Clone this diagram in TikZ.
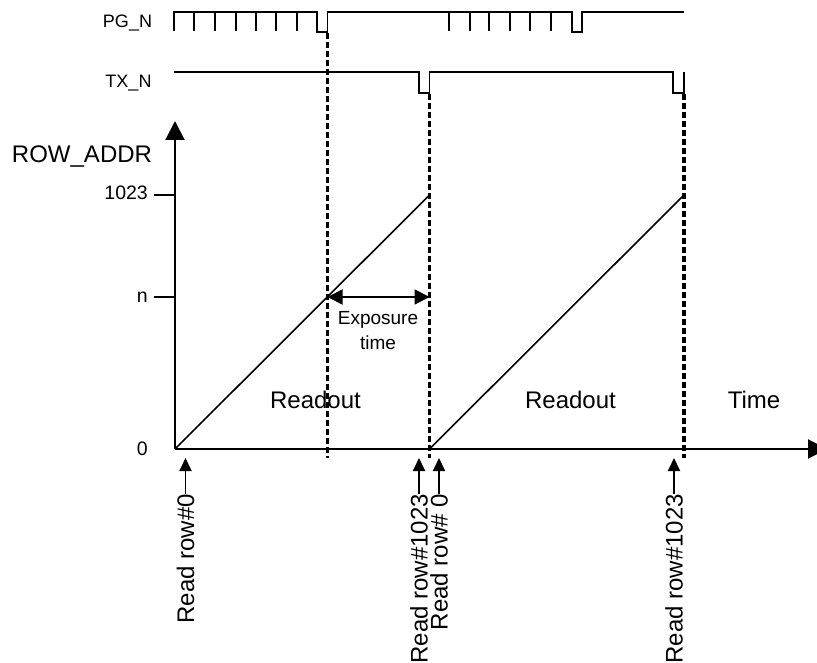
\documentclass[tikz,border=0pt]{standalone}
\usepackage{fontspec}
\setmainfont{Liberation Sans}
\usetikzlibrary{arrows.meta}
\tikzset{
  sig/.style={line width=1.9pt, line join=miter},
  axisline/.style={line width=2.1pt},
  ramp/.style={line width=1.6pt},
  dsh/.style={line width=3.3pt, dash pattern=on 6pt off 3pt},
  big/.style={font=\fontsize{24}{28}\selectfont, inner sep=0pt},
  mid/.style={font=\fontsize{19.5}{24}\selectfont, inner sep=0pt},
  small/.style={font=\fontsize{18}{22}\selectfont, inner sep=0pt},
  uparrow/.style={line width=1.9pt, -{Triangle[length=13pt,width=12pt]}},
}
\begin{document}
\begin{tikzpicture}[x=1pt,y=-1pt]
\useasboundingbox (0,0) rectangle (817,663);

% signal labels
\node[small, anchor=base] (pgl) at (127.5,28) {PG\_N};
\node[small, anchor=base] (txl) at (128.5,88) {TX\_N};

% PG_N waveform
\draw[sig] (174,31) -- (174,12) -- (317,12) -- (317,32) -- (327.5,32) -- (327.5,12) -- (572,12) -- (572,32) -- (582,32) -- (582,12) -- (684,12);
\foreach \x in {194.3,215,235.7,256,276.3,296.7,449.3,469.7,489.3,509.7,530,551}
  \draw[sig] (\x,12) -- (\x,31);

% TX_N waveform
\draw[sig] (174,72) -- (419,72) -- (419,93) -- (429.5,93) -- (429.5,72) -- (673,72) -- (673,93) -- (684,93) -- (684,72);

% axes
\coordinate (O) at (175,449);
\coordinate (ytop) at (175,121);
\coordinate (xend) at (827,449);
\draw[axisline, -{Triangle[length=19pt,width=19pt]}] (O) -- (ytop);
\draw[axisline, -{Triangle[length=19pt,width=19pt]}] (O) -- (xend);

\node[big, anchor=base] (yl) at (82,163) {ROW\_ADDR};

% ticks
\coordinate (t1023) at (175,195);
\coordinate (tn) at (175,297);
\draw[axisline] (154,195) -- (t1023);
\draw[axisline] (154,297) -- (tn);
\node[mid, anchor=base east] (l1023) at (148,200) {1023};
\node[mid, anchor=base east] (ln) at (148,302) {n};
\node[mid, anchor=base east] (l0) at (148,455) {0};

% ramps
\coordinate (r1top) at (429.5,195);
\coordinate (r2s) at (429.5,449);
\coordinate (r2top) at (684,195);
\draw[ramp] (O) -- (r1top);
\draw[ramp] (r2s) -- (r2top);

% dashed verticals
\draw[dsh] (327.5,33) -- (327.5,458);
\draw[dsh] (429.5,94) -- (429.5,458);
\draw[dsh] (684,94) -- (684,458);

% exposure
\coordinate (e1) at (327.5,297);
\coordinate (e2) at (429.5,297);
\draw[line width=1.9pt, {Triangle[length=15pt,width=15pt]}-{Triangle[length=15pt,width=15pt]}] (e1) -- (e2);
\node[mid, align=center, font=\fontsize{19}{25}\selectfont] (exp) at (378,331) {Exposure\\time};

% region labels
\node[big, anchor=base] (ro1) at (315.5,408) {Readout};
\node[big, anchor=base] (ro2) at (570.5,408) {Readout};
\node[big, anchor=base] (tm) at (754,408) {Time};

% bottom read markers
\coordinate (a1) at (185.5,458);
\coordinate (a2) at (419,458);
\coordinate (a3) at (439,458);
\coordinate (a4) at (674,458);
\node[big, rotate=90, anchor=east] (b1) at (185.5,494) {Read row\#0};
\node[big, rotate=90, anchor=east] (b2) at (419,494) {Read row\#1023};
\node[big, rotate=90, anchor=east] (b3) at (439,494) {Read row\# 0};
\node[big, rotate=90, anchor=east] (b4) at (674,494) {Read row\#1023};
\draw[uparrow] (b1.east) -- (a1);
\draw[uparrow] (b2.east) -- (a2);
\draw[uparrow] (b3.east) -- (a3);
\draw[uparrow] (b4.east) -- (a4);
\end{tikzpicture}
\end{document}
